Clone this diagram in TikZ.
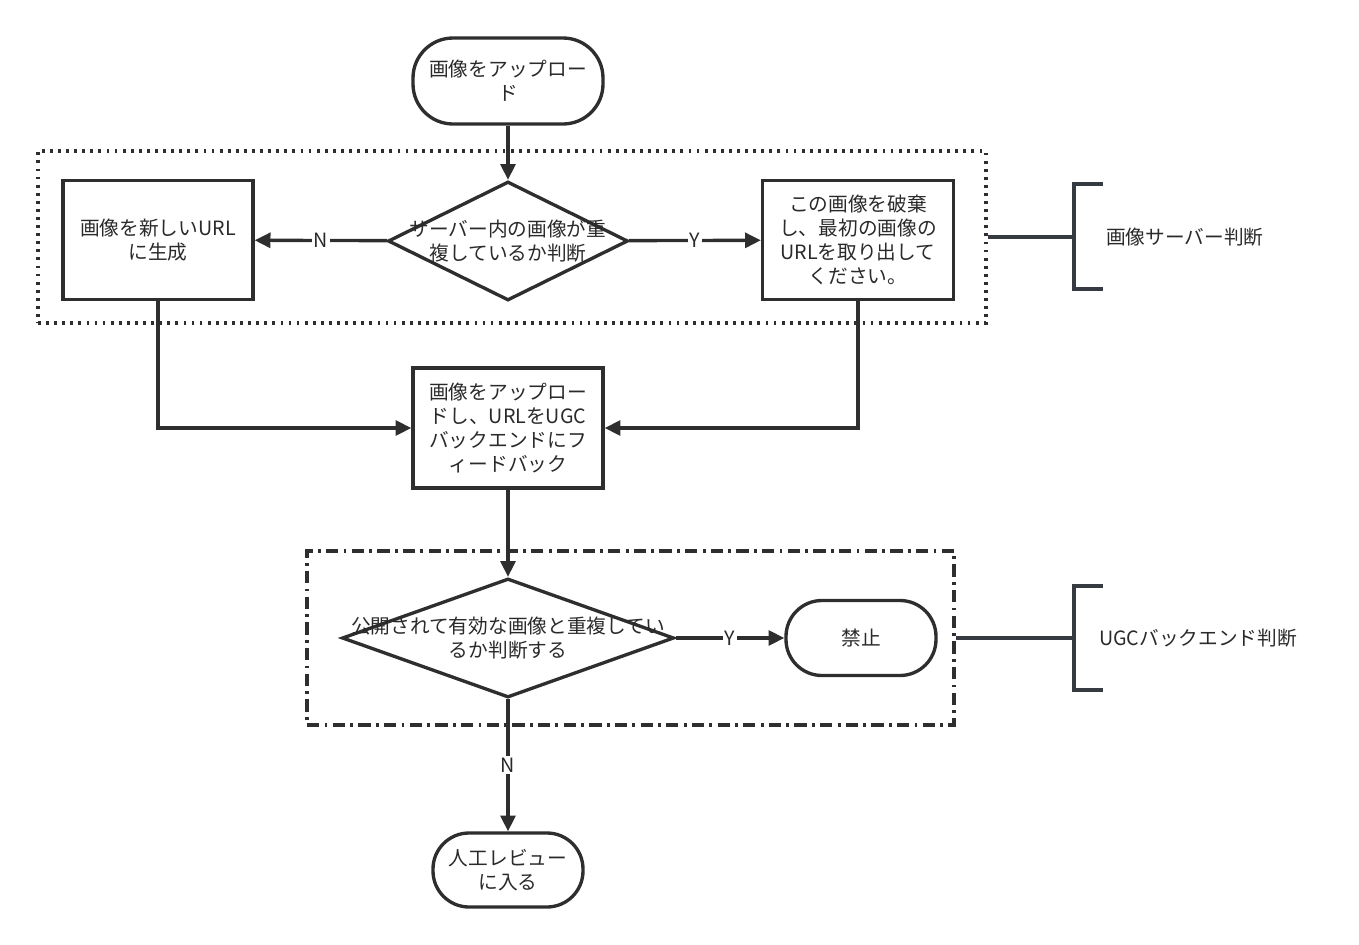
\documentclass[tikz,border=0pt]{standalone}
\usepackage{fontspec}
\usetikzlibrary{shapes.geometric,arrows.meta}
\newfontfamily\jpfont{Noto Sans CJK JP}
\definecolor{FlowLine}{HTML}{2E2E2E}
\definecolor{FlowText}{HTML}{2A2A2A}
\definecolor{FlowBracket}{HTML}{363B42}

\begin{document}
\begin{tikzpicture}[
        box/.style={draw=FlowLine, line width=1.9pt, fill=white, minimum width=3.8cm, minimum height=2.38cm, text=FlowText, align=center, font=\jpfont\fontsize{11.2}{13.6}\selectfont},
        term/.style={box, rounded corners=0.8cm, minimum height=1.72cm},
        decide/.style={diamond, draw=FlowLine, line width=1.9pt, fill=white, inner sep=0pt, minimum height=2.38cm},
        txt/.style={text=FlowText, align=center, font=\jpfont\fontsize{11.2}{13.6}\selectfont},
        flow/.style={-{Triangle[length=9pt,width=8.5pt]}, line width=1.9pt, FlowLine},
        yn/.style={fill=white, inner sep=1pt, text=FlowText, font=\jpfont\fontsize{11.2}{12}\selectfont},
        grp/.style={draw=FlowLine, line width=1.8pt},
        brk/.style={draw=FlowBracket, line width=1.9pt}
    ]
        \useasboundingbox (0,0) rectangle (27.18,-18.9);

        % Groups
        \node[grp, dash pattern=on 1.6pt off 3pt, minimum width=18.96cm, minimum height=3.44cm] (server) at (10.24,-4.74) {};
        \node[grp, dash pattern=on 7pt off 3pt on 1.6pt off 3pt, minimum width=12.94cm, minimum height=3.48cm] (backend) at (12.61,-12.76) {};

        % Image server check
        \node[term] (upload) at (10.16,-1.62) {画像をアップロー\\ド};
        \node[box] (newurl) at (3.16,-4.8) {画像を新しいURL\\に生成};
        \node[decide, minimum width=4.8cm] (dupserver) at (10.16,-4.82) {};
        \node[txt] (dupservertxt) at (dupserver) {サーバー内の画像が重\\複しているか判断};
        \node[box, minimum width=3.82cm] (discard) at (17.16,-4.8) {この画像を破棄\\し、最初の画像の\\URLを取り出して\\ください。};

        % UGC backend check
        \node[box, minimum height=2.4cm] (feedback) at (10.16,-8.56) {画像をアップロー\\ドし、URLをUGC\\バックエンドにフ\\ィードバック};
        \node[decide, minimum width=6.64cm] (duppublic) at (10.16,-12.76) {};
        \node[txt] (duppublictxt) at (duppublic) {公開されて有効な画像と重複してい\\るか判断する};
        \node[term, minimum width=3cm, minimum height=1.5cm, rounded corners=0.72cm] (ban) at (17.22,-12.76) {禁止};
        \node[term, minimum width=3cm, minimum height=1.48cm, rounded corners=0.72cm] (review) at (10.16,-17.4) {人工レビュー\\に入る};

        % Connections
        \draw[flow] (upload) -- (dupserver);
        \draw[flow] (dupserver) -- node[yn] {N} (newurl);
        \draw[flow] (dupserver) -- node[yn] {Y} (discard);
        \draw[flow] (newurl.south) |- (feedback.west);
        \draw[flow] (discard.south) |- (feedback.east);
        \draw[flow] (feedback) -- (duppublic);
        \draw[flow] (duppublic) -- node[yn] {Y} (ban);
        \draw[flow] (duppublic) -- node[yn] {N} (review);

        % Brackets
        \coordinate (serverbrk) at (21.48,-4.74);
        \coordinate (backendbrk) at (21.48,-12.76);
        \draw[brk] (server.east) -- (serverbrk);
        \draw[brk] (backend.east) -- (backendbrk);
        \draw[brk] (22.06,-3.68) -- (21.48,-3.68) -- (21.48,-5.78) -- (22.06,-5.78);
        \draw[brk] (22.06,-11.72) -- (21.48,-11.72) -- (21.48,-13.8) -- (22.06,-13.8);
        \node[txt, anchor=west] (serverlbl) at (22.0,-4.74) {画像サーバー判断};
        \node[txt, anchor=west] (backendlbl) at (21.86,-12.76) {UGCバックエンド判断};
    \end{tikzpicture}
\end{document}
